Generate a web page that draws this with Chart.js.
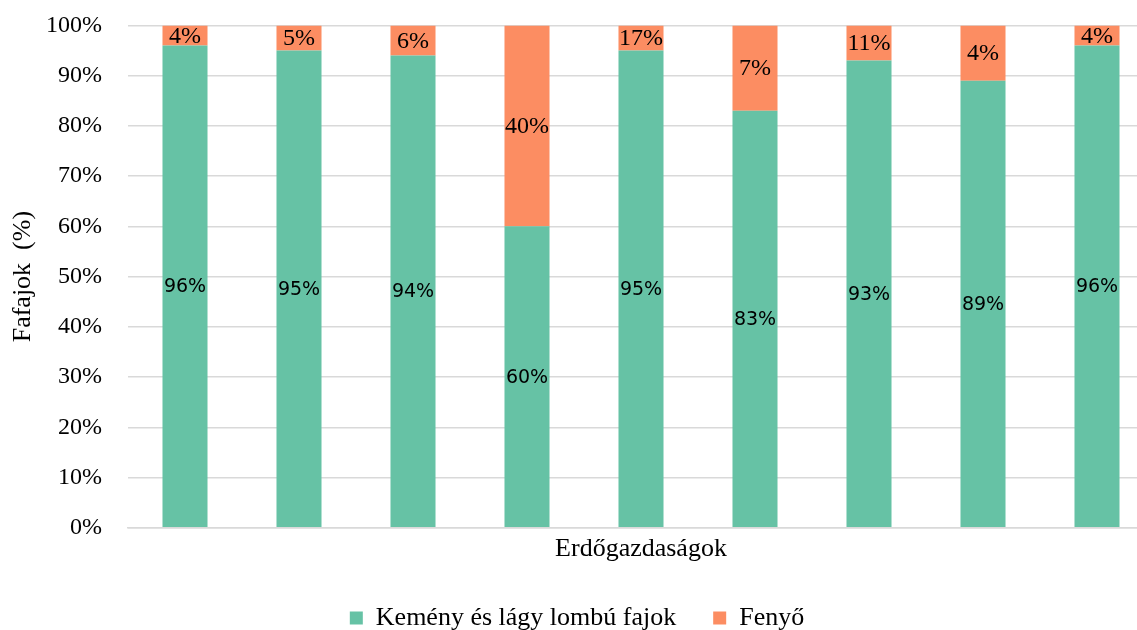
<!DOCTYPE html>
<html>
<head>
<meta charset="utf-8">
<script src="https://cdn.jsdelivr.net/npm/chart.js@4/dist/chart.umd.min.js"></script>
<style>
html,body{margin:0;padding:0;background:#fff;overflow:hidden;}
#wrap{position:relative;width:1155px;height:656px;margin-top:-15px;}
</style>
</head>
<body>
<div id="wrap"><canvas id="c"></canvas></div>
<script>
const categories = ['', '', '', '', '', '', '', '', ''];
const hardwoodValues = [96, 95, 94, 60, 95, 83, 93, 89, 96];
const coniferValues = [4, 5, 6, 40, 5, 17, 7, 11, 4];
const hardwoodLabels = ['96%', '95%', '94%', '60%', '95%', '83%', '93%', '89%', '96%'];
const coniferLabels = ['4%', '5%', '6%', '40%', '17%', '7%', '11%', '4%', '4%'];
const seriesNames = ['Kemény és lágy lombú fajok', 'Fenyő'];
const yTicks = [0, 10, 20, 30, 40, 50, 60, 70, 80, 90, 100];

const SERIF = '"Liberation Serif", "Times New Roman", serif';

const labelPlugin = {
  id: 'segLabels',
  afterDatasetsDraw(chart) {
    const ctx = chart.ctx;
    const specs = [
      {texts: hardwoodLabels, font: '19px "DejaVu Sans", sans-serif'},
      {texts: coniferLabels, font: '24px ' + SERIF}
    ];
    chart.data.datasets.forEach((ds, di) => {
      const meta = chart.getDatasetMeta(di);
      meta.data.forEach((el, i) => {
        const p = el.getProps(['x', 'y', 'base'], true);
        ctx.save();
        ctx.font = specs[di].font;
        ctx.fillStyle = '#000';
        ctx.textAlign = 'center';
        ctx.textBaseline = 'middle';
        ctx.fillText(specs[di].texts[i], p.x, (p.y + p.base) / 2 + 1);
        ctx.restore();
      });
    });
  }
};

new Chart(document.getElementById('c'), {
  type: 'bar',
  data: {
    labels: categories,
    datasets: [
      {label: seriesNames[0], data: hardwoodValues, backgroundColor: '#66C2A5', borderWidth: 0,
       categoryPercentage: 1, barPercentage: 0.395},
      {label: seriesNames[1], data: coniferValues, backgroundColor: '#FC8D62', borderWidth: 0,
       categoryPercentage: 1, barPercentage: 0.395}
    ]
  },
  options: {
    responsive: true,
    maintainAspectRatio: false,
    animation: false,
    layout: {padding: {top: 0, right: 1, left: 0, bottom: 0}},
    plugins: {
      tooltip: {enabled: false},
      legend: {
        position: 'bottom',
        labels: {
          font: {family: SERIF, size: 26},
          color: '#000',
          boxWidth: 13,
          boxHeight: 13,
          padding: 37
        }
      }
    },
    scales: {
      x: {
        stacked: true,
        grid: {display: false, drawTicks: false},
        border: {display: true, color: '#d9d9d9', width: 1.5},
        ticks: {display: false},
        title: {display: true, text: 'Erdőgazdaságok', color: '#000',
                font: {family: SERIF, size: 26}, padding: {top: 6, bottom: 3}}
      },
      y: {
        stacked: true,
        min: 0, max: 100,
        afterBuildTicks: (s) => { s.ticks = yTicks.map(v => ({value: v})); },
        afterFit: (s) => { s.width = 128; },
        grid: {color: '#d9d9d9', lineWidth: 1.5, drawTicks: false},
        border: {display: false},
        ticks: {color: '#000', font: {family: SERIF, size: 24}, padding: 26,
                callback: v => v + '%'},
        title: {display: true, text: 'Fafajok  (%)', color: '#000',
                font: {family: SERIF, size: 26}, padding: {top: 8, bottom: 0}}
      }
    }
  },
  plugins: [labelPlugin]
});
</script>
</body>
</html>
